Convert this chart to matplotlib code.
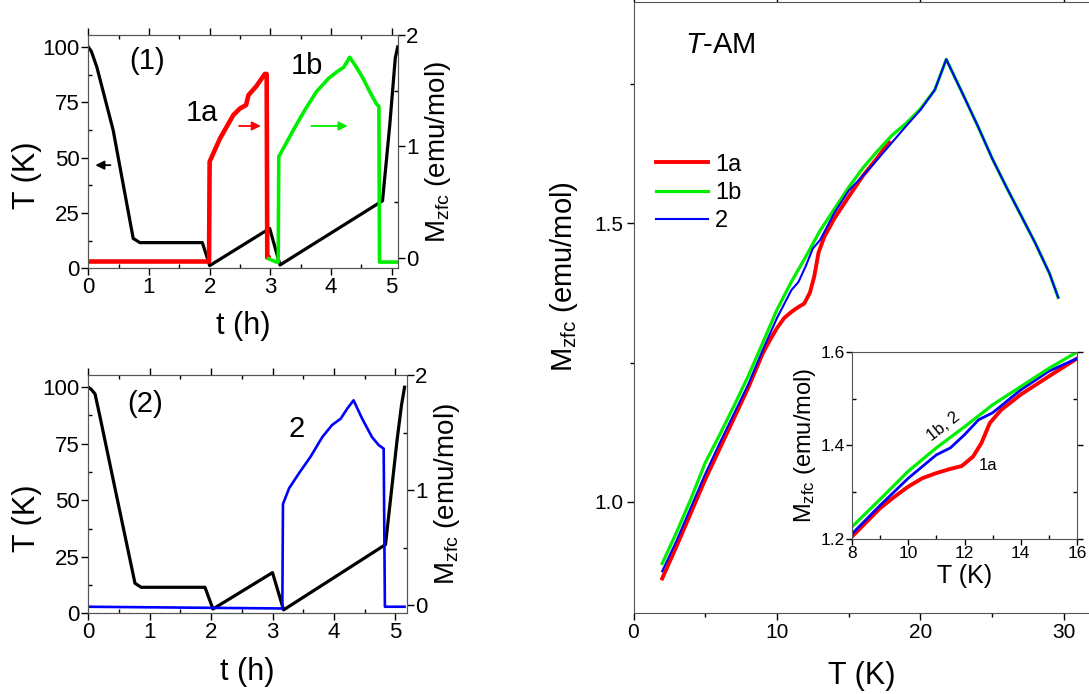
import matplotlib
matplotlib.use("Agg")
import matplotlib.pyplot as plt
from matplotlib.ticker import MultipleLocator

plt.rcParams['font.family'] = ['Liberation Sans', 'DejaVu Sans']
plt.rcParams['mathtext.fontset'] = 'custom'
plt.rcParams['mathtext.rm'] = 'Liberation Sans'
plt.rcParams['mathtext.it'] = 'Liberation Sans:italic'

# ---------------- data: panel (1) ----------------
t1_black = [0, 0.05, 0.14, 0.41, 0.74, 0.85, 1.88, 1.99, 2.0, 2.99, 3.16, 4.85, 4.97, 5.06, 5.1]
T1_black = [100, 98, 91, 62.4, 13.5, 11.6, 11.6, 2.2, 1.2, 18, 1.5, 30.5, 65, 95, 100]

t1a = [0, 1.99, 2.0, 2.17, 2.39, 2.5, 2.6, 2.64, 2.77, 2.91, 2.94, 2.95, 2.97]
M1a = [-0.035, -0.035, 0.862, 1.07, 1.28, 1.34, 1.37, 1.46, 1.54, 1.65, 1.65, 0.0, 0.0]

t1b = [2.97, 3.1, 3.13, 3.14, 3.38, 3.57, 3.76, 3.96, 4.1, 4.21, 4.31, 4.42, 4.53, 4.64,
       4.75, 4.79, 4.8, 5.1]
M1b = [-0.01, -0.04, -0.04, 0.906, 1.146, 1.326, 1.49, 1.61, 1.67, 1.71, 1.80, 1.71, 1.61,
       1.49, 1.38, 1.36, -0.04, -0.04]

# ---------------- data: panel (2) ----------------
t2_black = [0, 0.05, 0.11, 0.19, 0.46, 0.76, 0.86, 1.9, 2.03, 3.0, 3.18, 4.84, 5.03, 5.1, 5.15]
T2_black = [100, 99, 97, 87, 52, 13.3, 11.5, 11.5, 1.9, 18, 1.5, 30.4, 77, 92, 100]

t2 = [0, 3.15, 3.16, 3.17, 3.27, 3.43, 3.62, 3.81, 3.97, 4.11, 4.22, 4.32, 4.46, 4.62,
      4.73, 4.81, 4.83, 5.15]
M2 = [-0.015, -0.03, -0.03, 0.878, 1.015, 1.145, 1.29, 1.46, 1.565, 1.62, 1.71, 1.78,
      1.62, 1.46, 1.39, 1.36, -0.015, -0.015]

# ---------------- data: M_zfc vs T ----------------
T_1b = [2, 3, 4, 5, 6, 7, 8, 9, 10, 11, 12, 13, 14, 15, 16, 17, 18, 19, 20, 21, 21.8,
        23, 24, 25, 26, 27, 28, 29, 29.6]
M_1b = [0.889, 0.945, 1.005, 1.07, 1.12, 1.172, 1.226, 1.285, 1.345, 1.395, 1.44, 1.487,
        1.526, 1.565, 1.600, 1.63, 1.658, 1.68, 1.706, 1.74, 1.795,
        1.73, 1.675, 1.617, 1.565, 1.515, 1.465, 1.41, 1.367]

T_2 = [2, 3, 4, 5, 6, 7, 8, 9, 10, 10.5, 11, 11.5, 12, 12.5, 13, 14, 15, 16, 17, 18, 19,
       20, 21, 21.8, 23, 24, 25, 26, 27, 28, 29, 29.6]
M_2 = [0.875, 0.93, 0.99, 1.05, 1.105, 1.158, 1.211, 1.272, 1.33, 1.355, 1.38, 1.395,
       1.423, 1.455, 1.47, 1.519, 1.559, 1.586, 1.615, 1.645, 1.675, 1.704, 1.74, 1.795,
       1.73, 1.675, 1.617, 1.565, 1.515, 1.465, 1.41, 1.367]

T_1a = [2, 3, 4, 5, 6, 7, 8, 9, 9.5, 10, 10.5, 11, 11.5, 11.9, 12.3, 12.6, 12.9, 13.3,
        14, 15, 16, 17, 17.8]
M_1a = [0.862, 0.92, 0.98, 1.04, 1.095, 1.15, 1.205, 1.266, 1.29, 1.312, 1.33, 1.341,
        1.35, 1.356, 1.376, 1.405, 1.448, 1.476, 1.509, 1.548, 1.586, 1.618, 1.646]

RED, GREEN, BLUE = '#ff0000', '#00ee00', '#0000ff'
W, H = 1089, 694

fig = plt.figure(figsize=(W / 100, H / 100), dpi=100)

def box(l, t, r, b):
    return [l / W, 1 - b / H, (r - l) / W, (b - t) / H]

def style_left(ax, axr, tmax, rbot, ylab_x, ylab_y, xlab_y):
    ax.set_xlim(0, tmax)
    ax.set_ylim(0, 105.4)
    axr.set_ylim(rbot, 2.0)
    ax.xaxis.set_major_locator(MultipleLocator(1))
    ax.xaxis.set_minor_locator(MultipleLocator(0.5))
    ax.yaxis.set_major_locator(MultipleLocator(25))
    ax.yaxis.set_minor_locator(MultipleLocator(12.5))
    axr.yaxis.set_major_locator(MultipleLocator(1))
    axr.yaxis.set_minor_locator(MultipleLocator(0.5))
    ax.tick_params(which='major', direction='out', length=5, width=1, labelsize=16, pad=1)
    ax.tick_params(which='minor', direction='in', length=3, width=1)
    ax.tick_params(axis='x', which='both', top=True)
    axr.tick_params(which='major', direction='out', length=5, width=1, labelsize=16, pad=1)
    axr.tick_params(which='minor', direction='in', length=3, width=1)
    for a in (ax, axr):
        for s in a.spines.values():
            s.set_color('#555555')
    ax.set_xlabel('t (h)', fontsize=22)
    ax.set_ylabel('T (K)', fontsize=22)
    ax.xaxis.set_label_coords(0.5, xlab_y)
    ax.yaxis.set_label_coords(ylab_x, ylab_y)
    axr.set_ylabel(r'M$_{\mathrm{zfc}}$ (emu/mol)', fontsize=20, labelpad=3)

# ---- panel (1) ----
ax1 = fig.add_axes(box(88.3, 35, 397.7, 268.3))
ax1r = ax1.twinx()
ax1.plot(t1_black, T1_black, color='black', lw=2.3, zorder=3)
ax1r.plot(t1a, M1a, color=RED, lw=3.3)
ax1r.plot(t1b, M1b, color=GREEN, lw=2.6)
style_left(ax1, ax1r, 5.1, -0.096, -0.15, 0.40, -0.185)
ax1.text(0.97, 93.5, '(1)', fontsize=21, ha='center', va='center')
ax1.text(1.87, 70, '1a', fontsize=21, ha='center', va='center')
ax1.text(3.6, 91.5, '1b', fontsize=21, ha='center', va='center')
ax1.annotate('', xy=(0.07, 46.6), xytext=(0.41, 46.6),
             arrowprops=dict(arrowstyle='-|>', color='black', lw=1.3, mutation_scale=13))
ax1.annotate('', xy=(2.89, 64.3), xytext=(2.44, 64.3),
             arrowprops=dict(arrowstyle='-|>', color=RED, lw=1.3, mutation_scale=13))
ax1.annotate('', xy=(4.32, 64.3), xytext=(3.63, 64.3),
             arrowprops=dict(arrowstyle='-|>', color=GREEN, lw=1.3, mutation_scale=13))

# ---- panel (2) ----
ax2 = fig.add_axes(box(88.3, 375, 407, 613.3))
ax2r = ax2.twinx()
ax2.plot(t2_black, T2_black, color='black', lw=2.3, zorder=3)
ax2r.plot(t2, M2, color=BLUE, lw=1.9)
style_left(ax2, ax2r, 5.19, -0.072, -0.146, 0.40, -0.182)
ax2.text(0.93, 92.5, '(2)', fontsize=21, ha='center', va='center')
ax2.text(3.39, 81.5, '2', fontsize=21, ha='center', va='center')

# ---- main panel ----
axm = fig.add_axes(box(633.5, 2, 1089, 613))
axm.plot(T_1a, M_1a, color=RED, lw=2.8, label='1a')
axm.plot(T_1b, M_1b, color=GREEN, lw=2.3, label='1b')
axm.plot(T_2, M_2, color=BLUE, lw=1.5, label='2')
axm.set_xlim(0, 31.75)
axm.set_ylim(0.8, 1.898)
axm.xaxis.set_major_locator(MultipleLocator(10))
axm.xaxis.set_minor_locator(MultipleLocator(5))
axm.yaxis.set_major_locator(MultipleLocator(0.5))
axm.yaxis.set_minor_locator(MultipleLocator(0.25))
axm.tick_params(which='major', direction='out', length=5, width=1, labelsize=15, pad=2)
axm.tick_params(which='minor', direction='out', length=3, width=1)
axm.tick_params(axis='x', which='major', top=True)
axm.spines['right'].set_visible(False)
for s in axm.spines.values():
    s.set_color('#555555')
axm.set_xlabel('T (K)', fontsize=22, labelpad=14)
axm.set_ylabel(r'M$_{\mathrm{zfc}}$ (emu/mol)', fontsize=21)
axm.yaxis.set_label_coords(-0.118, 0.55)
axm.text(0.113, 0.93, r'$T$-AM', fontsize=21, transform=axm.transAxes, ha='left', va='center')
axm.legend(loc='upper left', bbox_to_anchor=(0.05, 0.752), frameon=False, fontsize=17,
           handlelength=2.2, handletextpad=0.3, labelspacing=0.27, borderpad=0,
           borderaxespad=0)

# ---- inset ----
axi = fig.add_axes(box(852, 352, 1077, 539))
axi.plot(T_1a, M_1a, color=RED, lw=2.8)
axi.plot(T_2, M_2, color=BLUE, lw=2.0)
axi.plot(T_1b, M_1b, color=GREEN, lw=2.3)
axi.set_xlim(8, 16)
axi.set_ylim(1.2, 1.6)
axi.xaxis.set_major_locator(MultipleLocator(2))
axi.xaxis.set_minor_locator(MultipleLocator(1))
axi.yaxis.set_major_locator(MultipleLocator(0.2))
axi.yaxis.set_minor_locator(MultipleLocator(0.1))
axi.tick_params(which='major', direction='out', length=4, width=1, labelsize=12.5, pad=1)
axi.tick_params(which='minor', direction='in', length=3, width=1, right=True)
axi.tick_params(axis='y', which='major', right=True)
for s in axi.spines.values():
    s.set_color('#555555')
axi.set_xlabel('T (K)', fontsize=18, labelpad=2)
axi.set_ylabel(r'M$_{\mathrm{zfc}}$ (emu/mol)', fontsize=17, labelpad=2)
axi.text(11.25, 1.44, '1b, 2', fontsize=12, rotation=38, ha='center', va='center')
axi.text(12.85, 1.358, '1a', fontsize=12, ha='center', va='center')

fig.savefig('out.png', dpi=100)
